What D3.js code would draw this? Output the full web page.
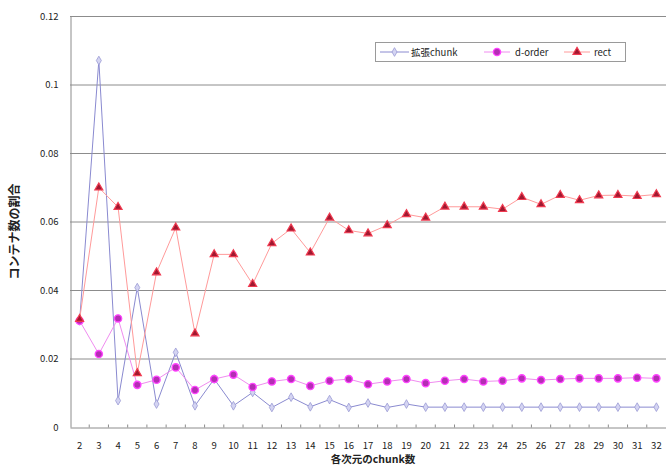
<!DOCTYPE html>
<html>
<head>
<meta charset="utf-8">
<script src="https://cdn.jsdelivr.net/npm/d3@7"></script>
<style>
  html, body { margin: 0; padding: 0; background: #fff; }
  svg { display: block; }
  text { font-family: "Noto Sans CJK JP", "Noto Sans", sans-serif; fill: #222; }
</style>
</head>
<body>
<svg id="chart" width="666" height="465"></svg>
<script>
// chunk count per dimension (x categories)
const categories = d3.range(2, 33);

// container ratio per series
const extChunk = [0.031, 0.107, 0.0077, 0.0407, 0.0067, 0.0218, 0.0062, 0.014, 0.0062, 0.0101,
                  0.0057, 0.0087, 0.0059, 0.008, 0.0057, 0.007, 0.0057, 0.0067, 0.0058, 0.0058,
                  0.0058, 0.0058, 0.0058, 0.0058, 0.0058, 0.0058, 0.0058, 0.0058, 0.0058, 0.0058, 0.0058];
const dOrder   = [0.031, 0.0213, 0.0317, 0.0123, 0.0138, 0.0174, 0.0108, 0.014, 0.0153, 0.0117,
                  0.0133, 0.014, 0.012, 0.0135, 0.014, 0.0125, 0.0133, 0.014, 0.0128, 0.0135,
                  0.014, 0.0133, 0.0135, 0.0142, 0.0137, 0.014, 0.0142, 0.0142, 0.0142, 0.0144, 0.0142];
const rect     = [0.0315, 0.0699, 0.0642, 0.0157, 0.0451, 0.0582, 0.0273, 0.0504, 0.0504, 0.0417,
                  0.0536, 0.0579, 0.0509, 0.0611, 0.0574, 0.0565, 0.0589, 0.0621, 0.0611, 0.0643,
                  0.0643, 0.0643, 0.0636, 0.0671, 0.065, 0.0677, 0.0662, 0.0676, 0.0677, 0.0674, 0.0679];

const yTicks = [0, 0.02, 0.04, 0.06, 0.08, 0.1, 0.12];
const yTickLabels = ["0", "0.02", "0.04", "0.06", "0.08", "0.1", "0.12"];
const seriesNames = ["拡張chunk", "d-order", "rect"];
const xTitle = "各次元のchunk数";
const yTitle = "コンテナ数の割合";

const svg = d3.select("#chart");
const plot = { left: 70, right: 666, top: 16, bottom: 427 };

const x = d3.scaleBand().domain(categories).range([plot.left, plot.right]);
const y = d3.scaleLinear().domain([0, 0.12]).range([plot.bottom, plot.top]);
const cx = d => x(d) + x.bandwidth() / 2;

// plot area frame (top edge) and gridlines
svg.append("line")
  .attr("x1", plot.left).attr("x2", plot.right)
  .attr("y1", plot.top + 0.5).attr("y2", plot.top + 0.5)
  .attr("stroke", "#c8c8c8");

const gridAxis = d3.axisLeft(y).tickValues(yTicks.slice(1))
  .tickSize(-(plot.right - plot.left)).tickFormat("");
svg.append("g")
  .attr("transform", `translate(${plot.left},0)`)
  .call(gridAxis)
  .call(g => g.select(".domain").remove())
  .call(g => g.selectAll("line").attr("stroke", "#8c8c8c").attr("stroke-width", 1));

// y axis
const yAxis = d3.axisLeft(y).tickValues(yTicks).tickSize(0).tickPadding(12)
  .tickFormat((d, i) => yTickLabels[i]);
svg.append("g")
  .attr("transform", `translate(${plot.left + 0.5},0)`)
  .call(yAxis)
  .call(g => g.select(".domain").attr("stroke", "#8c8c8c"))
  .call(g => g.selectAll("text").attr("font-size", 9.5).attr("fill", "#333"));

// x axis with tick marks between categories
const xAxis = d3.axisBottom(x).tickSize(0).tickPadding(15);
const xg = svg.append("g")
  .attr("transform", `translate(0,${plot.bottom + 0.5})`)
  .call(xAxis)
  .call(g => g.select(".domain").attr("stroke", "#8c8c8c"))
  .call(g => g.selectAll("text").attr("font-size", 9.5).attr("fill", "#333"));
xg.selectAll(".sep").data(categories.slice(1)).enter().append("line")
  .attr("class", "sep")
  .attr("x1", d => x(d)).attr("x2", d => x(d))
  .attr("y1", -3).attr("y2", 0)
  .attr("stroke", "#8c8c8c");

// axis titles
svg.append("text")
  .attr("transform", `translate(19,${(plot.top + plot.bottom) / 2 + 10}) rotate(-90)`)
  .attr("text-anchor", "middle")
  .attr("font-size", 12).attr("font-weight", "bold").attr("fill", "#333")
  .text(yTitle);
svg.append("text")
  .attr("x", 373).attr("y", 463)
  .attr("text-anchor", "middle")
  .attr("font-size", 10.5).attr("font-weight", "bold").attr("fill", "#333")
  .text(xTitle);

const line = d3.line().x((d, i) => cx(categories[i])).y(d => y(d));

const styles = [
  { data: extChunk, line: "#8a8ad0", marker: "diamond" },
  { data: dOrder,   line: "#f08cf0", marker: "circle" },
  { data: rect,     line: "#ff9a9a", marker: "triangle" }
];

function drawMarker(g, kind, px, py) {
  if (kind === "diamond") {
    g.append("path")
      .attr("d", d3.symbol(d3.symbolDiamond, 22)())
      .attr("transform", `translate(${px},${py})`)
      .attr("fill", "#d4d4f2").attr("stroke", "#9a9ad4").attr("stroke-width", 0.8);
  } else if (kind === "circle") {
    g.append("circle").attr("cx", px).attr("cy", py).attr("r", 3.6)
      .attr("fill", "#b42eb4").attr("stroke", "#ff44ff").attr("stroke-width", 1.4);
  } else {
    g.append("path")
      .attr("d", d3.symbol(d3.symbolTriangle, 28)())
      .attr("transform", `translate(${px},${py})`)
      .attr("fill", "#a01830").attr("stroke", "#f03a50").attr("stroke-width", 1.2);
  }
}

// lines first, then markers on top
styles.forEach(s => {
  svg.append("path").datum(s.data)
    .attr("d", line)
    .attr("fill", "none")
    .attr("stroke", s.line)
    .attr("stroke-width", 1);
});
styles.forEach(s => {
  const g = svg.append("g");
  s.data.forEach((v, i) => drawMarker(g, s.marker, cx(categories[i]), y(v)));
});

// legend
const lg = svg.append("g");
lg.append("rect")
  .attr("x", 375.5).attr("y", 42.5).attr("width", 250).attr("height", 19)
  .attr("fill", "#fff").attr("stroke", "#9a9a9a");
lg.append("line").attr("x1", 380).attr("x2", 409).attr("y1", 52).attr("y2", 52)
  .attr("stroke", styles[0].line);
drawMarker(lg, "diamond", 394.5, 52);
lg.append("text").attr("x", 411).attr("y", 55.5).attr("font-size", 9.5).text(seriesNames[0]);
lg.append("line").attr("x1", 484).attr("x2", 510).attr("y1", 52).attr("y2", 52)
  .attr("stroke", styles[1].line);
drawMarker(lg, "circle", 497, 52);
lg.append("text").attr("x", 515).attr("y", 55.5).attr("font-size", 9.5).text(seriesNames[1]);
lg.append("line").attr("x1", 564).attr("x2", 590).attr("y1", 52).attr("y2", 52)
  .attr("stroke", styles[2].line);
drawMarker(lg, "triangle", 577, 52);
lg.append("text").attr("x", 594).attr("y", 55.5).attr("font-size", 9.5).text(seriesNames[2]);
</script>
</body>
</html>
